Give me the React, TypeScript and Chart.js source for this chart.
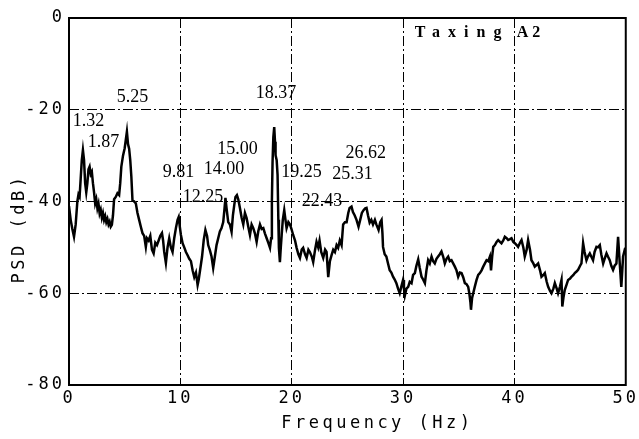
import React, { useEffect, useRef } from "react";
import { Chart, registerables } from "chart.js";

Chart.register(...registerables);

const freqHz = [
  0.0, 0.15, 0.3, 0.45, 0.6, 0.75, 0.85, 0.95, 1.05, 1.15, 1.25, 1.35, 1.45, 1.55, 1.65, 1.75, 1.85, 1.95,
  2.05, 2.15, 2.25, 2.35, 2.45, 2.55, 2.65, 2.75, 2.85, 2.95, 3.05, 3.15, 3.25, 3.35, 3.45, 3.55, 3.65, 3.75,
  3.85, 3.95, 4.05, 4.2, 4.35, 4.5, 4.6, 4.7, 4.85, 5.0, 5.1, 5.2, 5.3, 5.4, 5.5, 5.6, 5.7, 5.85, 6.0, 6.15,
  6.3, 6.45, 6.6, 6.75, 6.9, 7.0, 7.15, 7.3, 7.45, 7.6, 7.75, 7.9, 8.05, 8.2, 8.35, 8.45, 8.55, 8.7, 8.85,
  9.0, 9.15, 9.3, 9.45, 9.6, 9.75, 9.85, 9.95, 10.05, 10.2, 10.35, 10.5, 10.65, 10.8, 10.95, 11.1, 11.25,
  11.4, 11.55, 11.65, 11.8, 11.95, 12.1, 12.25, 12.4, 12.5, 12.65, 12.8, 12.95, 13.1, 13.25, 13.4, 13.55,
  13.7, 13.85, 13.95, 14.05, 14.15, 14.3, 14.45, 14.6, 14.72, 14.84, 14.95, 15.08, 15.2, 15.35, 15.5, 15.65,
  15.8, 15.95, 16.1, 16.25, 16.4, 16.55, 16.7, 16.85, 17.0, 17.15, 17.3, 17.45, 17.6, 17.75, 17.9, 18.05,
  18.15, 18.22, 18.28, 18.35, 18.43, 18.5, 18.55, 18.65, 18.73, 18.8, 18.85, 18.94, 19.02, 19.1, 19.2, 19.33,
  19.44, 19.54, 19.7, 19.84, 19.98, 20.13, 20.3, 20.44, 20.6, 20.74, 20.9, 21.03, 21.2, 21.34, 21.5, 21.63,
  21.8, 21.93, 22.1, 22.23, 22.38, 22.5, 22.65, 22.83, 23.0, 23.13, 23.28, 23.43, 23.58, 23.73, 23.88, 24.03,
  24.17, 24.32, 24.48, 24.62, 24.78, 24.93, 25.08, 25.2, 25.37, 25.5, 25.65, 25.82, 26.0, 26.15, 26.3, 26.45,
  26.6, 26.72, 26.85, 27.0, 27.15, 27.3, 27.47, 27.6, 27.8, 27.95, 28.07, 28.15, 28.2, 28.35, 28.5, 28.65,
  28.8, 28.95, 29.1, 29.25, 29.4, 29.55, 29.7, 29.85, 30.0, 30.08, 30.16, 30.3, 30.46, 30.6, 30.76, 30.9,
  31.06, 31.2, 31.36, 31.5, 31.66, 31.8, 31.96, 32.1, 32.25, 32.4, 32.56, 32.7, 32.85, 33.0, 33.15, 33.3,
  33.45, 33.6, 33.75, 33.9, 34.05, 34.2, 34.35, 34.5, 34.65, 34.8, 34.95, 35.1, 35.25, 35.4, 35.55, 35.7,
  35.85, 35.95, 36.05, 36.1, 36.2, 36.3, 36.45, 36.6, 36.75, 36.9, 37.05, 37.2, 37.35, 37.5, 37.65, 37.8,
  37.9, 38.0, 38.1, 38.25, 38.4, 38.54, 38.7, 38.84, 39.0, 39.14, 39.3, 39.44, 39.6, 39.74, 39.9, 40.04,
  40.2, 40.33, 40.5, 40.64, 40.8, 40.93, 41.1, 41.23, 41.4, 41.53, 41.7, 41.83, 42.0, 42.13, 42.3, 42.43,
  42.6, 42.73, 42.9, 43.03, 43.2, 43.33, 43.5, 43.63, 43.8, 43.92, 44.1, 44.23, 44.3, 44.4, 44.52, 44.7,
  44.82, 45.0, 45.12, 45.3, 45.42, 45.6, 45.72, 45.9, 46.02, 46.17, 46.3, 46.47, 46.6, 46.77, 46.9, 47.06,
  47.2, 47.37, 47.5, 47.67, 47.8, 47.97, 48.1, 48.27, 48.4, 48.56, 48.7, 48.86, 49.0, 49.16, 49.31, 49.46,
  49.6, 49.76, 49.9, 50.0,
];

const psdDb = [
  -41, -44, -46, -47.7, -45, -40, -38.5, -39, -35, -31, -28.8, -31, -36, -38, -36, -33, -32.4, -34,
  -33.5, -36, -38, -40.4, -39.5, -41.5, -40.5, -42.6, -41.8, -43.5, -42.5, -44, -43.2, -44.5, -43.8, -45, -44.4, -45.5,
  -45.1, -43, -39.5, -39, -38.2, -38.6, -36, -32.4, -30, -28.4, -26.6, -24.8, -27.5, -28.5, -31, -34.6, -39.7, -40, -40.4, -42.5,
  -44, -45.5, -46.9, -47.5, -49.9, -48, -48.5, -47.5, -50.5, -51.3, -49, -49.5, -48.5, -47.5, -46.9, -48.5, -51, -53.4, -50,
  -48, -50, -51, -48, -45.8, -44, -43.4, -45.5, -47.3, -49.1, -50, -51, -51.7, -52.5, -53, -55, -56.5,
  -55.5, -58.2, -57, -54.5, -52, -48.4, -46.2, -47.5, -49.5, -50.6, -52, -54.5, -52, -49.5, -48, -46.5,
  -45.8, -44.5, -42, -39.2, -41.5, -44.5, -45, -46.6, -43, -40.8, -39, -38.6, -39.5, -41.4, -43.5, -45,
  -42.5, -43.6, -45.5, -47.3, -45, -45.8, -47, -48.8, -46.5, -45, -46, -45.8, -47, -48, -49, -50.1,
  -48, -40, -31.4, -26, -23.8, -27, -29.9, -31, -34.2, -44, -50.1, -53.2, -50, -47.3, -44, -41.9,
  -44, -45.8, -44.5, -45, -46, -47.3, -48.5, -50.1, -51.5, -52.3, -50.5, -50.1, -51.5, -52.3, -50.5, -51,
  -52, -53.2, -50.5, -48.8, -50, -48.5, -51, -52.3, -50.5, -51, -56.5, -53, -51.7, -50.5, -51, -49.5,
  -50.1, -48.5, -49.5, -45, -44.5, -44.5, -42.5, -41.4, -41.1, -42.3, -43, -44, -45.5, -44, -42.5, -41.9,
  -41.5, -41.4, -43, -44.6, -44, -45, -44, -45, -46.2, -44.5, -44, -47, -49.9, -51.5, -52, -53.5,
  -55, -55.5, -56.4, -57, -57.8, -59, -60, -58.5, -57.1, -59, -60.5, -59, -58.6, -57.5, -57.8, -56,
  -55.6, -54, -52.6, -54.5, -56.4, -57, -57.8, -55, -52.8, -53.5, -52, -53, -53.5, -52.5, -52, -51.5,
  -50.9, -52, -53.5, -52.5, -52, -53, -52.8, -53.5, -54.2, -55, -56.4, -55.5, -55.6, -56.5, -57.8, -58,
  -58.6, -60, -62, -63.6, -61, -60, -58.5, -57.1, -56, -55.6, -55, -54.2, -53.5, -52.8, -53, -52,
  -55, -52, -49.9, -49.5, -48.8, -48.4, -48.8, -49.1, -48.5, -47.7, -48, -48.4, -48.2, -48, -48.8, -49.1,
  -49.5, -49.9, -49, -48.4, -50, -52, -50.5, -48.4, -50.5, -52.8, -53.5, -54.2, -53.8, -53.5, -55, -56.4,
  -56, -55.6, -57.5, -58.6, -59.5, -60, -59, -57.8, -59, -60, -58.5, -57.1, -62.9, -61, -59.3, -58,
  -57.1, -56.8, -56.4, -56, -55.6, -55.2, -54.9, -54, -53.5, -49.1, -51, -52.8, -52, -51.3, -52, -52.8,
  -51, -49.9, -50, -49.5, -51.5, -53.5, -52.5, -51.3, -52, -52.8, -54, -54.9, -54, -53.5, -47.7, -53.5,
  -58.6, -52, -50.6, -51,
];

const xTickValues = [0, 10, 20, 30, 40, 50];
const yTickValues = [0, -20, -40, -60, -80];

const peakTexts = ["5.25", "1.32", "1.87", "18.37", "15.00", "14.00", "9.81", "12.25", "19.25", "25.31", "26.62", "22.43"];
const peakTextFreq = [5.7, 1.75, 3.1, 18.58, 15.13, 13.91, 9.83, 12.03, 20.87, 25.45, 26.66, 22.71];
const peakTextDb = [-17.2, -22.5, -27.1, -16.5, -28.6, -32.9, -33.7, -39.0, -33.7, -34.0, -29.4, -39.9];

const titleText = "Taxing";
const titleSuffix = "A2";
const titleFreq = 31.06;
const suffixFreq = 40.2;
const titleDb = -3.3;

const xAxisTitle = "Frequency (Hz)";
const yAxisTitle = "PSD (dB)";

const overlayPlugin = {
  id: "overlay",
  beforeDraw(chart: any) {
    (chart.ctx as any).letterSpacing = "3px";
  },
  afterDraw(chart: any) {
    const { ctx, chartArea, scales } = chart;
    const xs = scales.x;
    const ys = scales.y;
    ctx.save();
    ctx.strokeStyle = "#000";
    ctx.lineWidth = 2;
    ctx.setLineDash([]);
    ctx.strokeRect(chartArea.left, chartArea.top, chartArea.right - chartArea.left, chartArea.bottom - chartArea.top);

    (ctx as any).letterSpacing = "0px";
    ctx.fillStyle = "#000";
    ctx.font = "18px 'Liberation Serif', serif";
    ctx.textAlign = "center";
    ctx.textBaseline = "middle";
    peakTexts.forEach((t, i) => {
      ctx.fillText(t, xs.getPixelForValue(peakTextFreq[i]), ys.getPixelForValue(peakTextDb[i]));
    });

    ctx.font = "bold 16px 'Liberation Serif', serif";
    ctx.textAlign = "left";
    (ctx as any).letterSpacing = "8px";
    ctx.fillText(titleText, xs.getPixelForValue(titleFreq), ys.getPixelForValue(titleDb));
    (ctx as any).letterSpacing = "4px";
    ctx.fillText(titleSuffix, xs.getPixelForValue(suffixFreq), ys.getPixelForValue(titleDb));

    ctx.font = "17px 'DejaVu Sans Mono', monospace";
    (ctx as any).letterSpacing = "3.5px";
    ctx.textAlign = "center";
    ctx.textBaseline = "alphabetic";
    ctx.fillText(xAxisTitle, (chartArea.left + chartArea.right) / 2 + 30, chart.height - 11);

    ctx.translate(24, (chartArea.top + chartArea.bottom) / 2 + 27);
    ctx.rotate(-Math.PI / 2);
    ctx.fillText(yAxisTitle, 0, 0);
    ctx.restore();
    (ctx as any).letterSpacing = "0px";
  },
};

export default function App() {
  const canvasRef = useRef<HTMLCanvasElement | null>(null);

  useEffect(() => {
    const canvas = canvasRef.current;
    if (!canvas) return;
    const chart = new Chart(canvas, {
      type: "line",
      data: {
        datasets: [
          {
            data: freqHz.map((f, i) => ({ x: f, y: psdDb[i] })),
            borderColor: "#000",
            borderWidth: 2.5,
            pointRadius: 0,
            tension: 0,
            fill: false,
          },
        ],
      },
      options: {
        responsive: true,
        maintainAspectRatio: false,
        animation: false,
        events: [],
        layout: { padding: { top: 18, right: 13, left: 0, bottom: 0 } },
        plugins: { legend: { display: false }, tooltip: { enabled: false }, title: { display: false } },
        scales: {
          x: {
            type: "linear",
            min: 0,
            max: 50,
            afterBuildTicks: (scale: any) => {
              scale.ticks = xTickValues.map((v) => ({ value: v }));
            },
            afterFit: (scale: any) => {
              scale.height = 54;
            },
            ticks: {
              color: "#000",
              padding: 3,
              maxRotation: 0,
              autoSkip: false,
              font: { family: "'DejaVu Sans Mono', monospace", size: 17 },
            },
            grid: { color: "#000", lineWidth: 1, drawTicks: false },
            border: { display: false, dash: [10, 3, 2, 3] },
          },
          y: {
            type: "linear",
            min: -80,
            max: 0,
            afterBuildTicks: (scale: any) => {
              scale.ticks = yTickValues.map((v) => ({ value: v }));
            },
            afterFit: (scale: any) => {
              scale.width = 69;
            },
            ticks: {
              color: "#000",
              padding: 4,
              autoSkip: false,
              font: { family: "'DejaVu Sans Mono', monospace", size: 17 },
            },
            grid: { color: "#000", lineWidth: 1, drawTicks: false },
            border: { display: false, dash: [10, 3, 2, 3] },
          },
        },
      },
      plugins: [overlayPlugin],
    });
    return () => chart.destroy();
  }, []);

  return (
    <div style={{ position: "fixed", left: 0, top: 0, width: 639, height: 439, background: "#fff" }}>
      <canvas ref={canvasRef} />
    </div>
  );
}
